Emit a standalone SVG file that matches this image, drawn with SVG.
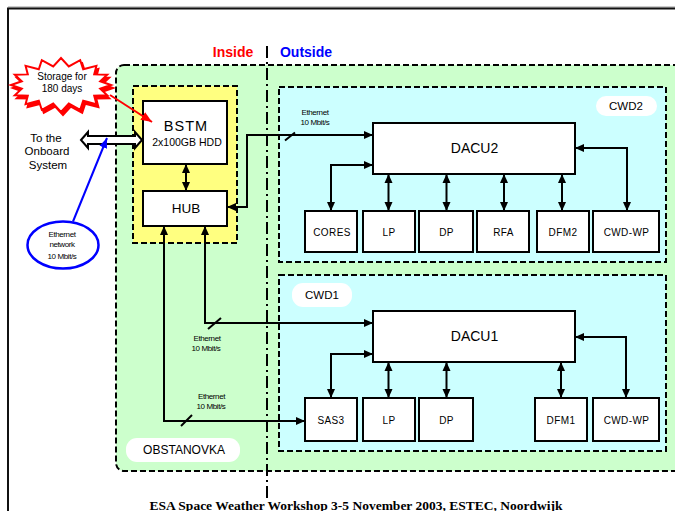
<svg xmlns="http://www.w3.org/2000/svg" width="675" height="511" viewBox="0 0 675 511">
<defs>
<style>
.box{fill:#fff;stroke:#000;stroke-width:2}
.reg{stroke:#000;stroke-width:2;stroke-dasharray:6 3}
.con{fill:none;stroke:#000;stroke-width:2}
.dbl{marker-start:url(#ah);marker-end:url(#ah)}
.t{font-family:"Liberation Sans",Arial,sans-serif;fill:#000;text-anchor:middle}
.lb{font-size:10px;letter-spacing:0.4px}
.eth{font-size:8px;letter-spacing:-0.4px}
.pill{fill:#fff;stroke:none}
</style>
<marker id="ah" markerUnits="userSpaceOnUse" markerWidth="10" markerHeight="10" refX="9" refY="4" orient="auto-start-reverse" viewBox="0 0 10 8">
<path d="M0,0 L9,4 L0,8 z" fill="#000"/>
</marker>
<marker id="ahr" markerUnits="userSpaceOnUse" markerWidth="12" markerHeight="10" refX="11" refY="4.5" orient="auto" viewBox="0 0 12 9">
<path d="M0,0 L11,4.5 L0,9 z" fill="#f00"/>
</marker>
<marker id="ahb" markerUnits="userSpaceOnUse" markerWidth="10" markerHeight="12" refX="10" refY="4" orient="auto" viewBox="0 0 10 8">
<path d="M0,0 L10,4 L0,8 z" fill="#00f"/>
</marker>
</defs>
<rect width="675" height="511" fill="#fff"/>
<!-- outer frame -->
<line x1="8" y1="7" x2="680" y2="7" stroke="#999" stroke-width="1"/>
<path d="M8,515 V8.5 H680" fill="none" stroke="#111" stroke-width="2"/>

<!-- header -->
<text x="233" y="57" font-family="Liberation Sans,Arial,sans-serif" font-weight="bold" font-size="14" fill="#f00" text-anchor="middle">Inside</text>
<text x="306" y="57" font-family="Liberation Sans,Arial,sans-serif" font-weight="bold" font-size="14" fill="#00f" text-anchor="middle">Outside</text>

<!-- regions -->
<g id="obstanovka">
<rect class="reg" x="116" y="65" width="580" height="406" rx="8" fill="#ccffcc"/>
<rect class="pill" x="126" y="438" width="114" height="24" rx="11"/>
<text class="t" x="184" y="453.5" font-size="12">OBSTANOVKA</text>
</g>
<g id="inside-box">
<rect class="reg" x="133" y="86" width="104" height="157" fill="#ffff80"/>
</g>
<g id="cwd2">
<rect class="reg" x="279" y="87" width="387" height="175" fill="#ccffff"/>
<rect class="pill" x="596" y="96" width="61" height="20" rx="10"/>
<text class="t" x="626" y="109.5" font-size="11.5">CWD2</text>
</g>
<g id="cwd1">
<rect class="reg" x="279" y="275" width="387" height="176" fill="#ccffff"/>
<rect class="pill" x="292" y="283" width="60" height="24" rx="11"/>
<text class="t" x="322" y="299" font-size="11.5">CWD1</text>
</g>

<!-- divider -->
<line x1="267" y1="46" x2="267" y2="498" stroke="#000" stroke-width="2" stroke-dasharray="12 4 2 4"/>

<!-- nodes -->
<g id="bstm">
<rect class="box" x="143" y="101" width="84" height="63"/>
<text class="t" x="186" y="131" font-size="14.5" letter-spacing="1">BSTM</text>
<text class="t" x="187" y="145.5" font-size="10.5">2x100GB HDD</text>
</g>
<g id="hub">
<rect class="box" x="143" y="191" width="84" height="35"/>
<text class="t" x="186" y="213" font-size="13.5">HUB</text>
</g>
<g id="dacu2">
<rect class="box" x="373" y="123" width="202" height="51"/>
<text class="t" x="474.5" y="153" font-size="14">DACU2</text>
</g>
<g id="cores"><rect class="box" x="305" y="211" width="52" height="41"/><text class="t lb" x="332" y="235.5">CORES</text></g>
<g id="lp2"><rect class="box" x="363" y="211" width="52" height="41"/><text class="t lb" x="389" y="235.5">LP</text></g>
<g id="dp2"><rect class="box" x="419" y="211" width="54" height="41"/><text class="t lb" x="446.5" y="235.5">DP</text></g>
<g id="rfa"><rect class="box" x="477" y="211" width="52" height="41"/><text class="t lb" x="503.5" y="235.5">RFA</text></g>
<g id="dfm2"><rect class="box" x="537" y="211" width="52" height="41"/><text class="t lb" x="563" y="235.5">DFM2</text></g>
<g id="cwdwp2"><rect class="box" x="593" y="211" width="66" height="41"/><text class="t lb" x="626.5" y="235.5">CWD-WP</text></g>

<g id="dacu1">
<rect class="box" x="373" y="311" width="202" height="51"/>
<text class="t" x="474.5" y="341" font-size="14">DACU1</text>
</g>
<g id="sas3"><rect class="box" x="305" y="398" width="52" height="43"/><text class="t lb" x="331" y="423.5">SAS3</text></g>
<g id="lp1"><rect class="box" x="363" y="398" width="52" height="43"/><text class="t lb" x="389" y="423.5">LP</text></g>
<g id="dp1"><rect class="box" x="419" y="398" width="54" height="43"/><text class="t lb" x="446.5" y="423.5">DP</text></g>
<g id="dfm1"><rect class="box" x="535" y="398" width="52" height="43"/><text class="t lb" x="561" y="423.5">DFM1</text></g>
<g id="cwdwp1"><rect class="box" x="593" y="398" width="66" height="43"/><text class="t lb" x="626.5" y="423.5">CWD-WP</text></g>

<!-- left side -->
<g id="storage">
<polygon points="111,85 100.2,88.7 107.2,95.3 94.2,95.6 96.4,104.1 83.2,100.8 80.2,109.9 68.8,103.6 61,112 53.2,103.6 41.8,109.9 38.8,100.8 25.6,104.1 27.8,95.6 14.8,95.3 21.8,88.7 11,85 21.8,81.3 14.8,74.7 27.8,74.4 25.6,65.9 38.8,69.2 41.8,60.1 53.2,66.4 61,58 68.8,66.4 80.2,60.1 83.2,69.2 96.4,65.9 94.2,74.4 107.2,74.7 100.2,81.3" fill="#f00" stroke="#f00" stroke-width="2" transform="translate(2,3)"/>
<polygon points="111,85 100.2,88.7 107.2,95.3 94.2,95.6 96.4,104.1 83.2,100.8 80.2,109.9 68.8,103.6 61,112 53.2,103.6 41.8,109.9 38.8,100.8 25.6,104.1 27.8,95.6 14.8,95.3 21.8,88.7 11,85 21.8,81.3 14.8,74.7 27.8,74.4 25.6,65.9 38.8,69.2 41.8,60.1 53.2,66.4 61,58 68.8,66.4 80.2,60.1 83.2,69.2 96.4,65.9 94.2,74.4 107.2,74.7 100.2,81.3" fill="#fff" stroke="#f00" stroke-width="2"/>
<text class="t" x="62" y="79.5" font-size="10">Storage for</text>
<text class="t" x="62" y="91.5" font-size="10">180 days</text>
</g>
<g id="onboard">
<path d="M81,140 L88,132 L88,136 L135,136 L135,132 L142,140 L135,148 L135,144 L88,144 L88,148 Z" fill="#fff" stroke="#000" stroke-width="2" stroke-linejoin="miter"/>
<text class="t" x="46" y="141.5" font-size="11.5">To the</text>
<text class="t" x="47" y="155" font-size="11.5">Onboard</text>
<text class="t" x="48" y="168.5" font-size="11.5">System</text>
</g>
<g id="ethernet-network">
<ellipse cx="63" cy="245" rx="35.5" ry="23.5" fill="#fff" stroke="#00f" stroke-width="2.5"/>
<text class="t eth" x="62" y="237">Ethernet</text>
<text class="t eth" x="62" y="247">network</text>
<text class="t eth" x="62" y="259">10 Mbit/s</text>
</g>

<!-- connectors -->
<g id="connectors">
<line x1="110" y1="95" x2="152" y2="122" stroke="#f00" stroke-width="2" marker-end="url(#ahr)"/>
<line x1="73" y1="221.5" x2="107" y2="138" stroke="#00f" stroke-width="2" marker-end="url(#ahb)"/>
<line class="con dbl" x1="186" y1="164" x2="186" y2="191"/>
<path class="con dbl" d="M373,135 H247 V207 H227"/>
<path class="con dbl" d="M205,226 V323 H373"/>
<path class="con dbl" d="M164,226 V421 H305"/>
<path class="con dbl" d="M373,165 H331 V211"/>
<line class="con dbl" x1="388.5" y1="174" x2="388.5" y2="211"/>
<line class="con dbl" x1="446.5" y1="174" x2="446.5" y2="211"/>
<line class="con dbl" x1="504" y1="174" x2="504" y2="211"/>
<line class="con dbl" x1="562" y1="174" x2="562" y2="211"/>
<path class="con dbl" d="M575,148 H627 V211"/>
<path class="con dbl" d="M373,354 H331 V398"/>
<line class="con dbl" x1="388.5" y1="362" x2="388.5" y2="398"/>
<line class="con dbl" x1="446.5" y1="362" x2="446.5" y2="398"/>
<line class="con dbl" x1="561" y1="362" x2="561" y2="398"/>
<path class="con dbl" d="M575,337 H626 V398"/>
<line class="con" x1="285" y1="140.5" x2="295" y2="132.5"/>
<line class="con" x1="208" y1="329" x2="221" y2="318"/>
<line class="con" x1="181" y1="426" x2="192" y2="415"/>
<text class="t eth" x="315" y="114.5">Ethernet</text>
<text class="t eth" x="315" y="124.5">10 Mbit/s</text>
<text class="t eth" x="207" y="341">Ethernet</text>
<text class="t eth" x="206" y="351">10 Mbit/s</text>
<text class="t eth" x="211.5" y="399">Ethernet</text>
<text class="t eth" x="211" y="409">10 Mbit/s</text>
</g>

<text x="356" y="509.5" font-family="Liberation Serif,Times New Roman,serif" font-weight="bold" font-size="13.5" text-anchor="middle" fill="#000">ESA Space Weather Workshop 3-5 November 2003, ESTEC, Noordwijk</text>
</svg>
